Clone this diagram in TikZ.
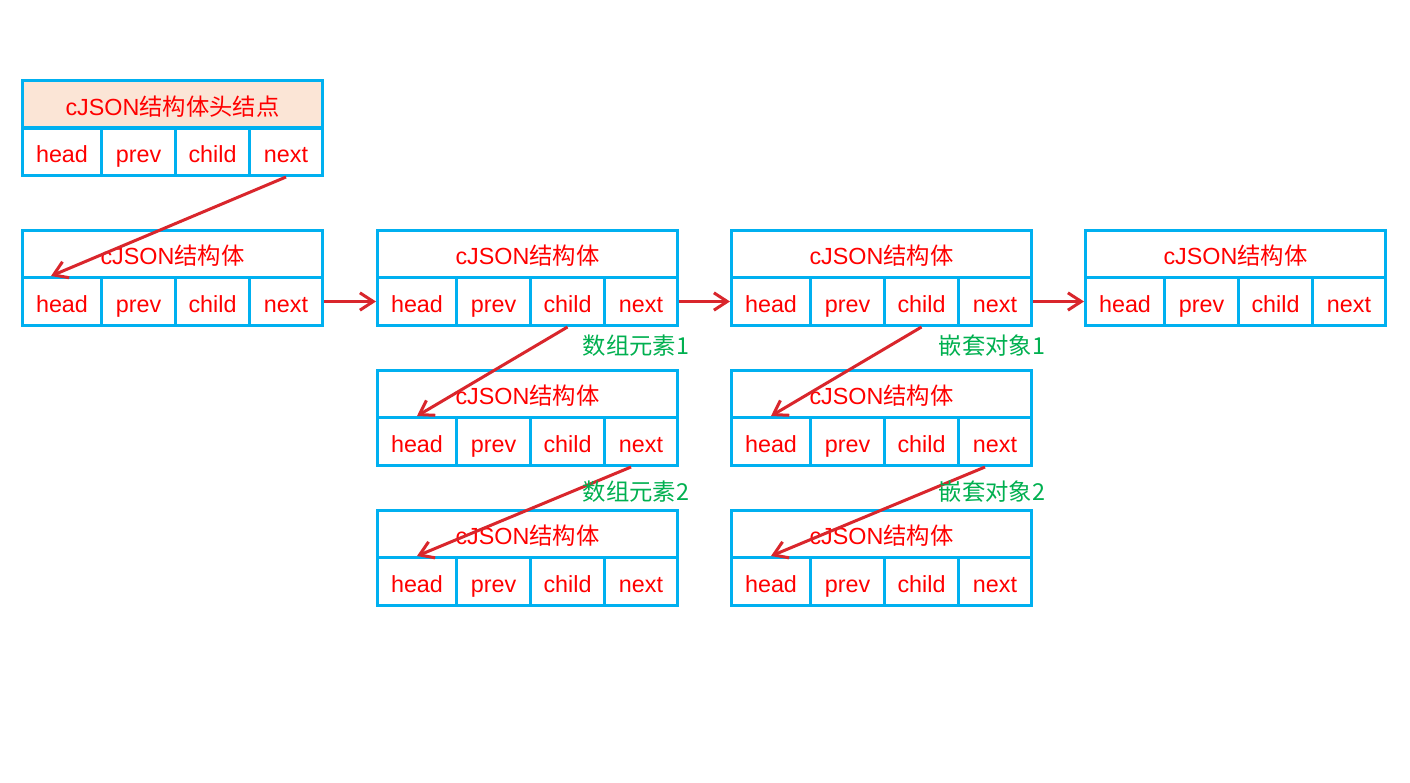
\documentclass[tikz,border=0pt]{standalone}
\usepackage{fontspec}
\setmainfont{Liberation Sans}
\newfontfamily\cjk{Noto Sans CJK SC}
\usetikzlibrary{arrows.meta}
\definecolor{bluebd}{HTML}{00B0F0}
\definecolor{redtxt}{HTML}{FF0000}
\definecolor{redarr}{HTML}{D9262C}
\definecolor{hdrfill}{HTML}{FBE5D6}
\definecolor{greentxt}{HTML}{00B050}
\tikzset{
  box/.style={draw=bluebd, line width=2.25pt, rectangle, inner sep=0pt, anchor=north west,
    text=redtxt, font=\fontsize{17.5pt}{20pt}\selectfont, text height=16pt, text depth=0.2pt},
  ttl/.style={box, minimum width={300*0.75pt}, minimum height={47*0.75pt}},
  cell/.style={box, minimum height={48*0.75pt}},
  link/.style={draw=redarr, line width=2.25pt, -{Straight Barb[length=10pt,width=13pt]}},
  lbl/.style={text=greentxt, font=\fontsize{17.5pt}{20pt}\selectfont\cjk, inner sep=0pt}
}
\newcommand\cstruct[5][]{%
  \node[ttl,#1] (#2-t) at (#3,#4) {cJSON{\cjk #5}};
  \node[cell, minimum width={79*0.75pt}] (#2-h) at (#3,#4+47) {head};
  \node[cell, minimum width={74*0.75pt}] (#2-p) at (#3+79,#4+47) {prev};
  \node[cell, minimum width={74*0.75pt}] (#2-c) at (#3+153,#4+47) {child};
  \node[cell, minimum width={73*0.75pt}] (#2-n) at (#3+227,#4+47) {next};
}
\begin{document}
\begin{tikzpicture}[x=0.75pt, y=-0.75pt]
\fill[white] (0,0) rectangle (1410,782);
\useasboundingbox (0,0) rectangle (1410,782);

\cstruct[fill=hdrfill, minimum height={48*0.75pt}]{h0}{21}{79}{结构体头结点}
\cstruct{s1}{21}{229}{结构体}
\cstruct{s2}{376}{229}{结构体}
\cstruct{s3}{730}{229}{结构体}
\cstruct{s4}{1084}{229}{结构体}
\cstruct{a1}{376}{369}{结构体}
\cstruct{a2}{376}{509}{结构体}
\cstruct{o1}{730}{369}{结构体}
\cstruct{o2}{730}{509}{结构体}

% horizontal next links
\draw[link] (s1-n.east) -- (s2-h.west);
\draw[link] (s2-n.east) -- (s3-h.west);
\draw[link] (s3-n.east) -- (s4-h.west);

% diagonal links
\draw[link] (h0-n.south) -- ([xshift=-8.25pt]s1-h.north);
\draw[link] (s2-c.south) -- (a1-h.north);
\draw[link] ([xshift=-7.5pt]a1-n.south) -- (a2-h.north);
\draw[link] (s3-c.south) -- (o1-h.north);
\draw[link] ([xshift=-7.5pt]o1-n.south) -- (o2-h.north);

% labels
\node[lbl] (l1) at (636,346) {数组元素1};
\node[lbl] (l2) at (636,492) {数组元素2};
\node[lbl] (l3) at (992,346) {嵌套对象1};
\node[lbl] (l4) at (992,492) {嵌套对象2};
\end{tikzpicture}
\end{document}
